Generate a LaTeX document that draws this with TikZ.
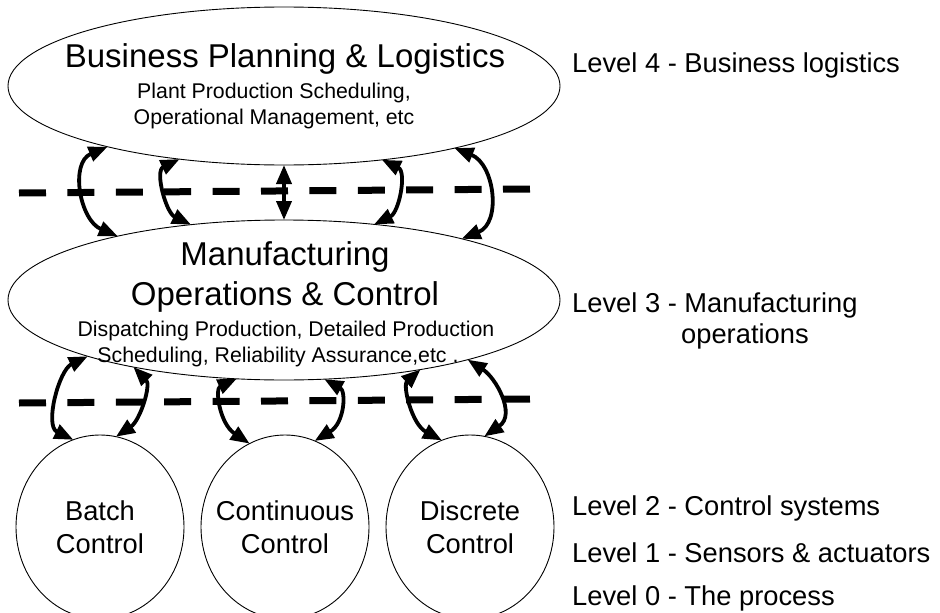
\documentclass[tikz,border=0pt]{standalone}
\usepackage{fontspec}
\setmainfont{Liberation Sans}
\usetikzlibrary{arrows.meta,shapes.geometric}
\begin{document}
\begin{tikzpicture}[x=1pt,y=-1pt,
  bubble/.style={draw=black, line width=0.9pt, ellipse, inner sep=0pt, outer sep=0pt},
  flow/.style={line width=3.8pt, {Triangle[length=19pt,width=15pt]}-{Triangle[length=19pt,width=15pt]}},
  divider/.style={line width=7pt, dash pattern=on 27pt off 21.4pt},
  bigtxt/.style={font=\fontsize{33}{40}\selectfont, inner sep=0pt, anchor=base},
  smalltxt/.style={font=\fontsize{21.3}{26}\selectfont, inner sep=0pt, anchor=base},
  circtxt/.style={font=\fontsize{27.3}{33}\selectfont, inner sep=0pt, align=center},
  leveltxt/.style={font=\fontsize{27.3}{33}\selectfont, inner sep=0pt, anchor=base west},
]
\useasboundingbox (0,0) rectangle (940,613);
\fill[white] (0,0) rectangle (940,613);
\begin{scope}
\clip (0,0) rectangle (940,613);
% ellipses
\node[bubble, minimum width=552pt, minimum height=158pt] (top) at (284,86) {};
\node[bubble, minimum width=552pt, minimum height=160pt] (mid) at (284,300) {};
\node[bubble, minimum width=168pt, minimum height=184pt] (batch) at (100,527) {};
\node[bubble, minimum width=168pt, minimum height=184pt] (cont) at (285,527) {};
\node[bubble, minimum width=168pt, minimum height=184pt] (disc) at (470,527) {};
\end{scope}
% texts in ellipses
\node[bigtxt] (toptitle) at (285,67) {Business Planning \& Logistics};
\node[smalltxt] (topsub1) at (274,98) {Plant Production Scheduling,};
\node[smalltxt] (topsub2) at (274,124) {Operational Management, etc};
\node[bigtxt] (midtitle1) at (285,265) {Manufacturing};
\node[bigtxt] (midtitle2) at (285,305) {Operations \& Control};
\node[smalltxt] (midsub1) at (286,336) {Dispatching Production, Detailed Production};
\node[smalltxt] (midsub2) at (278,362) {Scheduling, Reliability Assurance,etc .};
\node[circtxt] (batchtxt) at (100,527) {Batch\\Control};
\node[circtxt] (conttxt) at (285,527) {Continuous\\Control};
\node[circtxt] (disctxt) at (470,527) {Discrete\\Control};
% level labels
\node[leveltxt] (l4) at (572,72) {Level 4 - Business logistics};
\node[leveltxt] (l3) at (572,312) {Level 3 - Manufacturing};
\node[leveltxt] (l3b) at (681,343) {operations};
\node[leveltxt] (l2) at (572,515) {Level 2 - Control systems};
\node[leveltxt] (l1) at (572,562) {Level 1 - Sensors \& actuators};
\node[leveltxt] (l0) at (572,605) {Level 0 - The process};
% dashed dividers
\coordinate (d1a) at (19,193);
\coordinate (d1b) at (532,189);
\coordinate (d2a) at (19,403);
\coordinate (d2b) at (532,399);
\draw[divider] (d1a) -- (d1b);
\draw[divider] (d2a) -- (d2b);
% arrows between level 4 and level 3
\draw[flow] (top.199.6) .. controls +(-38,16) and +(-38,-16) .. (mid.159.5);
\draw[flow] (top.215.9) .. controls +(-25,12) and +(-25,-12) .. (mid.141.2);
\draw[flow] (top.south) -- (mid.north);
\draw[flow] (top.323.2) .. controls +(25,12) and +(25,-12) .. (mid.40);
\draw[flow] (top.340.8) .. controls +(40,16) and +(40,-16) .. (mid.19.9);
% arrows between level 3 and level 2
\draw[flow] (mid.196.3) .. controls +(-29,14) and +(-29,-14) .. (batch.107.8);
\draw[flow] (mid.204.1) .. controls +(18,18) and +(24,-16) .. (batch.80.5);
\draw[flow] (mid.239.5) .. controls +(-22,10) and +(-30,-20) .. (cont.113.5);
\draw[flow] (mid.297.4) .. controls +(22,12) and +(30,-18) .. (cont.71);
\draw[flow] (mid.333.1) .. controls +(-18,16) and +(-30,-16) .. (disc.108.6);
\draw[flow] (mid.342.3) .. controls +(28,18) and +(32,-22) .. (disc.81.7);
\end{tikzpicture}
\end{document}
